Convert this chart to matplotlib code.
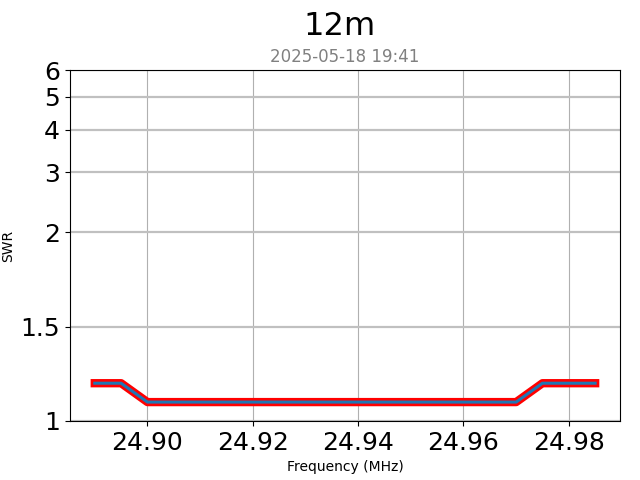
from matplotlib import pyplot as plt
from matplotlib import ticker

band = '12m'
stamp = '2025-05-18 19:41'

freq = [24.890, 24.895, 24.900, 24.905, 24.910, 24.915, 24.920, 24.925,
        24.930, 24.935, 24.940, 24.945, 24.950, 24.955, 24.960, 24.965,
        24.970, 24.975, 24.980, 24.985]
swr = [1.2, 1.2, 1.1, 1.1, 1.1, 1.1, 1.1, 1.1,
       1.1, 1.1, 1.1, 1.1, 1.1, 1.1, 1.1, 1.1,
       1.1, 1.2, 1.2, 1.2]
swr_ticks = [1, 1.5, 2, 3, 4, 5, 6]
swr_labels = ['1', '1.5', '2', '3', '4', '5', '6']

fig, ax = plt.subplots(figsize=(6.4, 4.8), dpi=100)
fig.subplots_adjust(left=0.109, right=0.969, top=0.854, bottom=0.123)

ax.plot(freq, swr, color='red', linewidth=6)
ax.plot(freq, swr, color='tab:blue', linewidth=2.2)

ax.set_yscale('symlog', linthresh=2)
ax.set_ylim(1, 6)
ax.set_yticks(swr_ticks)
ax.set_yticklabels(swr_labels)
ax.yaxis.set_minor_locator(ticker.NullLocator())
ax.xaxis.set_major_formatter(ticker.FormatStrFormatter('%.2f'))

ax.xaxis.grid(True, color='#b0b0b0', linewidth=0.8)
ax.yaxis.grid(True, color='#c0c0c0', linewidth=1.6)
ax.set_axisbelow(True)

ax.tick_params(axis='both', labelsize=18)
ax.set_xlabel('Frequency (MHz)', fontsize=10)
ax.set_ylabel('SWR', fontsize=10)

fig.text(0.53, 0.945, band, fontsize=23, ha='center', va='center')
fig.text(0.539, 0.881, stamp, fontsize=12, color='gray', ha='center', va='center')

fig.savefig('out.png', dpi=100)
